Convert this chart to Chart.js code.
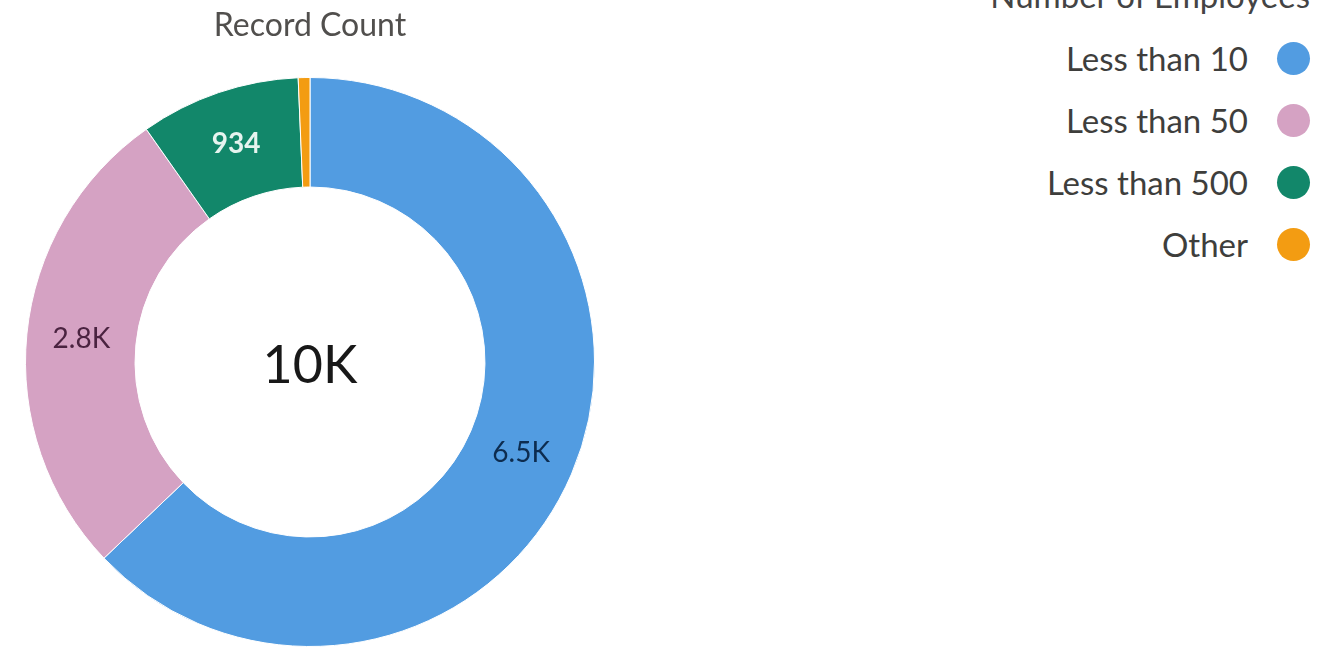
<!DOCTYPE html>
<html>
<head>
<meta charset="utf-8">
<title>Record Count by Number of Employees</title>
<script src="https://cdn.jsdelivr.net/npm/chart.js@4.4.0/dist/chart.umd.min.js"></script>
<style>
  html, body { margin: 0; padding: 0; background: #fff; overflow: hidden; }
  body { width: 1332px; height: 652px; position: relative; font-family: Lato, sans-serif; }
  #chartBox { position: absolute; left: 0; top: 0; width: 620px; height: 652px; }
  #legendTitle { position: absolute; right: 22px; top: -24px; font-size: 33px; line-height: 38px; color: #444; }
  #legend { position: absolute; right: 22px; top: 27px; list-style: none; margin: 0; padding: 0; }
  #legend li { display: flex; align-items: center; justify-content: flex-end; height: 62px; font-size: 33px; color: #3e3e3c; }
  #legend li .dot { width: 33px; height: 33px; border-radius: 50%; margin-left: 29px; }
</style>
</head>
<body>
<div id="chartBox"><canvas id="employeesChart"></canvas></div>
<div id="legendTitle"></div>
<ul id="legend"></ul>
<script>
// data
const categories = ['Less than 10', 'Less than 50', 'Less than 500', 'Other'];
const recordCounts = [6460, 2810, 934, 68];
const chartTitle = 'Record Count';
const legendTitle = 'Number of Employees';

// colours
const sliceColors = ['#529CE1', '#D5A2C3', '#12876A', '#F39C12'];
const labelColors = ['#0D2C4F', '#4A2340', '#E6F4EF', '#000000'];

function fmt(v) {
  return v >= 1000 ? (v / 1000).toFixed(1) + 'K' : String(v);
}

// values on the slices + total in the hole
const sliceLabels = {
  id: 'sliceLabels',
  afterDatasetsDraw(chart) {
    const ctx = chart.ctx;
    const meta = chart.getDatasetMeta(0);
    const total = recordCounts.reduce((a, b) => a + b, 0);
    ctx.save();
    ctx.textAlign = 'center';
    ctx.textBaseline = 'middle';
    meta.data.forEach((arc, i) => {
      if (recordCounts[i] / total < 0.03) return;
      const p = arc.tooltipPosition();
      ctx.font = (i === 2 ? 'bold ' : '') + '28px Lato';
      ctx.fillStyle = labelColors[i];
      ctx.fillText(fmt(recordCounts[i]), p.x, p.y);
    });
    const c = meta.data[0];
    ctx.font = '52px Lato';
    ctx.fillStyle = '#181818';
    ctx.fillText(Math.round(total / 1000) + 'K', c.x, c.y + 4);
    ctx.restore();
  }
};

const ctx1 = document.getElementById('employeesChart').getContext('2d');
const chart = new Chart(ctx1, {
  type: 'doughnut',
  data: {
    labels: categories,
    datasets: [{
      data: recordCounts,
      backgroundColor: sliceColors,
      borderColor: '#ffffff',
      borderWidth: 1
    }]
  },
  options: {
    responsive: true,
    maintainAspectRatio: false,
    animation: false,
    cutout: '61.5%',
    layout: { padding: { bottom: 5 } },
    plugins: {
      legend: { display: false },
      tooltip: { enabled: false },
      title: {
        display: true,
        text: chartTitle,
        color: '#514f4d',
        font: { family: 'Lato', size: 32, weight: 'normal', lineHeight: 1.2 },
        padding: { top: 6, bottom: 32.6 }
      }
    }
  },
  plugins: [sliceLabels]
});

// html legend built from the chart's own legend items
document.getElementById('legendTitle').textContent = legendTitle;
const ul = document.getElementById('legend');
chart.options.plugins.legend.labels.generateLabels(chart).forEach(item => {
  const li = document.createElement('li');
  const txt = document.createElement('span');
  txt.textContent = item.text;
  const dot = document.createElement('span');
  dot.className = 'dot';
  dot.style.background = item.fillStyle;
  li.appendChild(txt);
  li.appendChild(dot);
  ul.appendChild(li);
});
</script>
</body>
</html>
